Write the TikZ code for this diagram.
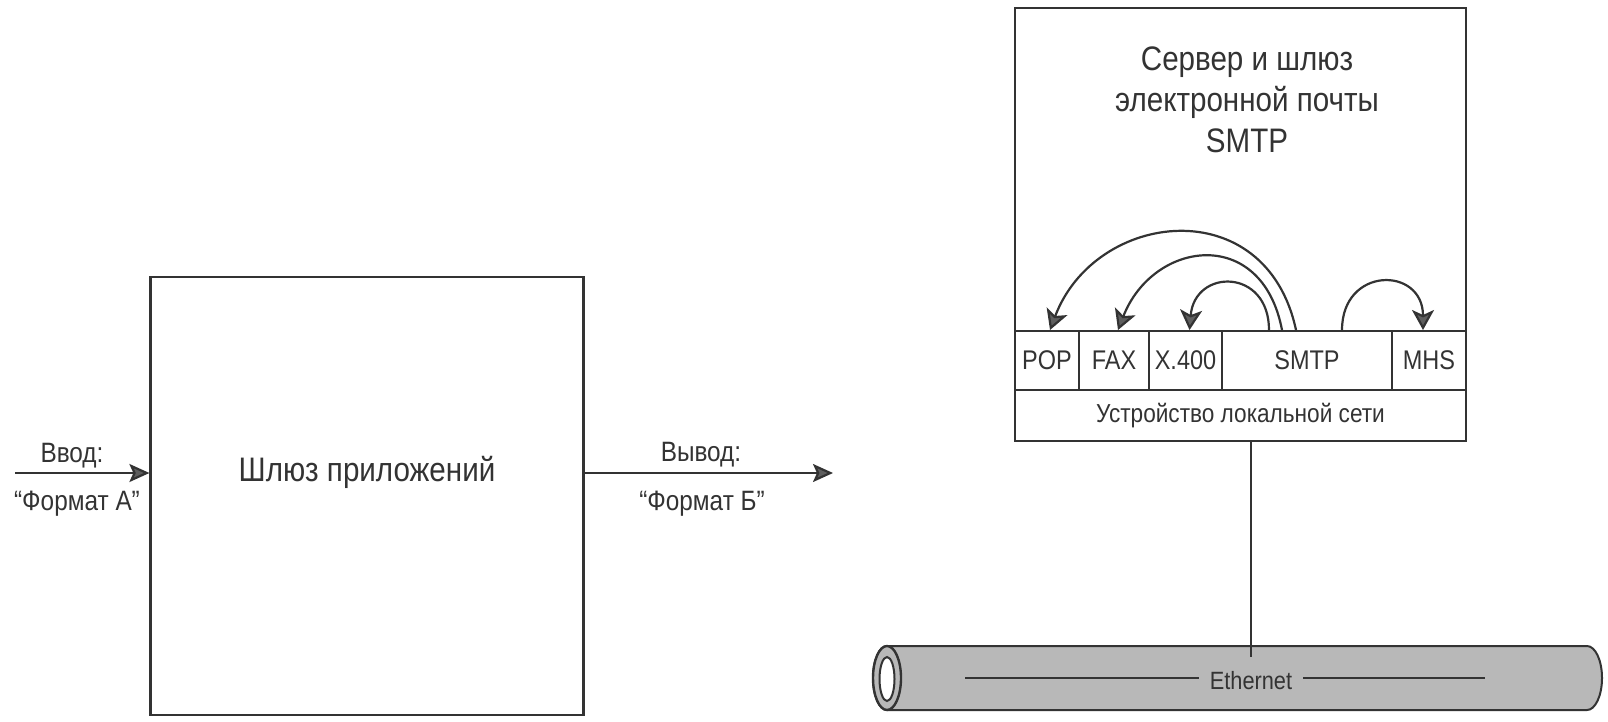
\documentclass[tikz,border=0pt]{standalone}
\usepackage{fontspec}
\setmainfont[FakeStretch=0.87]{Liberation Sans}
\usetikzlibrary{arrows.meta,calc}
\definecolor{ink}{HTML}{333333}
\definecolor{tip}{HTML}{5E5E5E}
\definecolor{cable}{HTML}{B8B8B8}
\begin{document}
\begin{tikzpicture}[x=1pt,y=-1pt,
  line width=2.2pt, draw=ink, text=ink,
  box/.style={draw=ink, line width=2.2pt, inner sep=0pt, rectangle},
  cell/.style={draw=ink, line width=2pt, inner sep=0pt, minimum height=59pt, font=\fontsize{27}{30}\selectfont},
  lbl/.style={font=\fontsize{28}{32}\selectfont, inner sep=1pt},
  arr/.style={-{Stealth[length=20pt,width=18pt,inset=4pt,fill=tip]}, draw=ink, line width=2.2pt},
  arcarrow/.style={-{Stealth[length=20pt,width=22pt,inset=5pt,fill=tip]}, draw=ink, line width=2.2pt}
]
\useasboundingbox (0,0) rectangle (1608,721);

% left: application gateway
\node[box, minimum width=433pt, minimum height=438pt] (gw) at (367,496) {};
\node[font=\fontsize{34}{38}\selectfont] (gwl) at (367,472) {Шлюз приложений};
\coordinate (inA) at (15,473);
\coordinate (outB) at (833,473);
\draw[arr] (inA) -- (inA -| gw.west);
\draw[arr] (gw.east |- outB) -- (outB);
\node[lbl] (ina1) at (72,456) {Ввод:};
\node[lbl] (ina2) at (77,504) {“Формат А”};
\node[lbl] (outb1) at (701,455) {Вывод:};
\node[lbl] (outb2) at (702,504) {“Формат Б”};

% right: mail server
\node[box, minimum width=451pt, minimum height=433pt] (srv) at (1240.5,224.5) {};
\node[align=center, font=\fontsize{34}{41}\selectfont] (title) at (1247,100) {Сервер и шлюз\\электронной почты\\SMTP};
\node[cell, minimum width=64pt] (pop) at (1047,360.5) {POP};
\node[cell, minimum width=70pt] (fax) at (1114,360.5) {FAX};
\node[cell, minimum width=73pt] (x400) at (1185.5,360.5) {X.400};
\node[cell, minimum width=170pt] (smtp) at (1307,360.5) {SMTP};
\node[cell, minimum width=74pt] (mhs) at (1429,360.5) {MHS};
\node[box, minimum width=451pt, minimum height=51pt, font=\fontsize{26}{28}\selectfont] (lan) at (1240.5,415.5) {Устройство локальной сети};

\coordinate (s1) at ($(smtp.north west)+(75,0)$);
\coordinate (s2) at ($(smtp.north west)+(61,0)$);
\coordinate (s3) at ($(smtp.north west)+(48,0)$);
\coordinate (s4) at ($(smtp.north west)+(121,0)$);
\coordinate (t1) at ($(pop.north)+(3,0)$);
\coordinate (t2) at ($(fax.north)+(4,0)$);
\coordinate (t3) at ($(x400.north)+(4,0)$);
\coordinate (t4) at ($(mhs.north)+(-6,0)$);
\draw[arcarrow] (s1) .. controls +(-30,-140) and +(45,-120) .. (t1);
\draw[arcarrow] (s2) .. controls +(-20,-105) and +(35,-90) .. (t2);
\draw[arcarrow] (s3) .. controls +(0,-62) and +(5,-62) .. (t3);
\draw[arcarrow] (s4) .. controls +(0,-64) and +(0,-64) .. (t4);

% Ethernet cable
\path[draw=ink, line width=2pt, fill=cable] (887,646) -- (1587,646)
  arc[start angle=90, end angle=-90, x radius=15pt, y radius=32pt]
  -- (887,710)
  arc[start angle=270, end angle=90, x radius=14pt, y radius=32pt] -- cycle;
\draw[ink, line width=2.4pt, fill=cable] (887,678) ellipse[x radius=14pt, y radius=32pt];
\draw[ink, line width=2pt, fill=white] (887,679) ellipse[x radius=7.5pt, y radius=22pt];
\node[font=\fontsize{25}{28}\selectfont, inner sep=10pt] (eth) at (1251,681) {Ethernet};
\coordinate (el) at (965,678);
\coordinate (er) at (1485,678);
\draw[ink, line width=2.2pt] (el) -- (el -| eth.west);
\draw[ink, line width=2.2pt] (er -| eth.east) -- (er);
\draw[ink, line width=2pt] (lan.south -| eth.north) -- ([yshift=4pt]eth.north);
\end{tikzpicture}
\end{document}
